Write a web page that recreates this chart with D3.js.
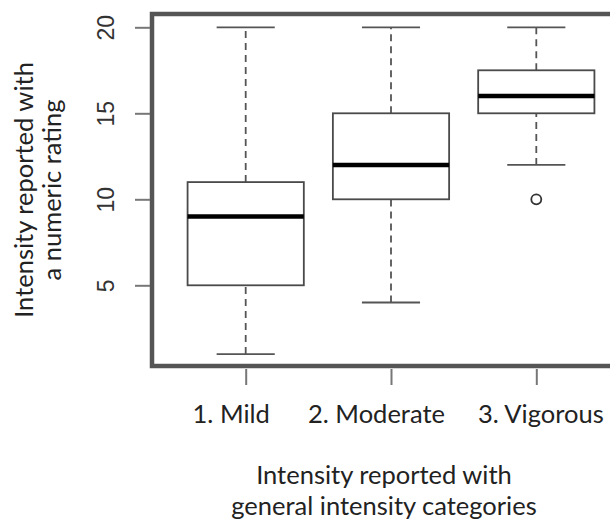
<!DOCTYPE html>
<html><head><meta charset="utf-8">
<script src="https://cdn.jsdelivr.net/npm/d3@7"></script>
<style>html,body{margin:0;padding:0;background:#fff;}</style>
</head><body>
<svg id="chart" width="610" height="521"></svg>
<script>
const categories = ["1. Mild", "2. Moderate", "3. Vigorous"];
const whiskerLow = [1, 4, 12];
const q1 = [5, 10, 15];
const median = [9, 12, 16];
const q3 = [11, 15, 17.5];
const whiskerHigh = [20, 20, 20];
const outliers = [[], [], [10]];
const yTicks = [5, 10, 15, 20];
const yTitle = ["Intensity reported with", "a numeric rating"];
const xTitle = ["Intensity reported with", "general intensity categories"];

const svg = d3.select("#chart");
const y = d3.scaleLinear().domain([0, 20]).range([371.3, 27.3]);
const x = d3.scalePoint().domain(categories).range([245.7, 536.3]);
const step = x.step();
const boxW = step * 0.8;
const capW = boxW / 2;
const titleFont = "Lato, 'Open Sans', sans-serif";

const data = categories.map((c, i) => ({c, lo: whiskerLow[i], q1: q1[i], med: median[i], q3: q3[i], hi: whiskerHigh[i], out: outliers[i]}));

const g = svg.append("g");
// whiskers dashed
g.selectAll(".wl").data(data).join("line")
  .attr("x1", d => x(d.c)).attr("x2", d => x(d.c))
  .attr("y1", d => y(d.lo)).attr("y2", d => y(d.q1))
  .attr("stroke", "#555").attr("stroke-width", 1.8).attr("stroke-dasharray", "7,5");
g.selectAll(".wh").data(data).join("line")
  .attr("x1", d => x(d.c)).attr("x2", d => x(d.c))
  .attr("y1", d => y(d.q3)).attr("y2", d => y(d.hi))
  .attr("stroke", "#555").attr("stroke-width", 1.8).attr("stroke-dasharray", "7,5");
// caps
["lo", "hi"].forEach(k => {
  g.selectAll(".cap" + k).data(data).join("line")
    .attr("x1", d => x(d.c) - capW / 2).attr("x2", d => x(d.c) + capW / 2)
    .attr("y1", d => y(d[k])).attr("y2", d => y(d[k]))
    .attr("stroke", "#555").attr("stroke-width", 1.8);
});
// boxes
g.selectAll(".box").data(data).join("rect")
  .attr("x", d => x(d.c) - boxW / 2).attr("width", boxW)
  .attr("y", d => y(d.q3)).attr("height", d => y(d.q1) - y(d.q3))
  .attr("fill", "#fff").attr("stroke", "#4a4a4a").attr("stroke-width", 1.8);
// medians
g.selectAll(".med").data(data).join("line")
  .attr("x1", d => x(d.c) - boxW / 2).attr("x2", d => x(d.c) + boxW / 2)
  .attr("y1", d => y(d.med)).attr("y2", d => y(d.med))
  .attr("stroke", "#000").attr("stroke-width", 4.5);
// outliers
data.forEach(d => {
  g.selectAll(null).data(d.out).join("circle")
    .attr("cx", x(d.c)).attr("cy", v => y(v)).attr("r", 5)
    .attr("fill", "none").attr("stroke", "#333").attr("stroke-width", 1.8);
});

// frame
svg.append("rect").attr("x", 152).attr("y", 14).attr("width", 480).attr("height", 352)
  .attr("fill", "none").attr("stroke", "#555").attr("stroke-width", 4.5);

// y axis
const yAxis = svg.append("g").attr("transform", "translate(150,0)")
  .call(d3.axisLeft(y).tickValues(yTicks).tickSize(15).tickPadding(0));
yAxis.select(".domain").remove();
yAxis.selectAll(".tick line").attr("stroke", "#777").attr("stroke-width", 2);
yAxis.selectAll(".tick text")
  .attr("transform", "rotate(-90)").attr("x", 0).attr("y", -44)
  .attr("dy", "0.35em").attr("text-anchor", "middle")
  .attr("font-family", "'Liberation Sans', Arial, sans-serif").attr("font-size", 23).attr("fill", "#333");

// x axis
const xAxis = svg.append("g").attr("transform", "translate(0,369)")
  .call(d3.axisBottom(x).tickSize(16).tickPadding(0));
xAxis.select(".domain").remove();
xAxis.selectAll(".tick line").attr("stroke", "#777").attr("stroke-width", 2);
const labelShift = [-15, -15, 4];
xAxis.selectAll(".tick text").attr("y", 54).attr("dy", 0)
  .attr("x", (d, i) => labelShift[i])
  .attr("font-family", titleFont).attr("font-size", 25.5).attr("fill", "#222");

// titles
svg.append("text").attr("text-anchor", "middle").attr("font-family", titleFont).attr("font-size", 25.5).attr("fill", "#222")
  .selectAll("tspan").data(xTitle).join("tspan")
  .attr("x", 384).attr("y", (d, i) => 484 + i * 31).text(d => d);
svg.append("text").attr("text-anchor", "middle").attr("font-family", titleFont).attr("font-size", 25.5).attr("fill", "#222")
  .attr("transform", "rotate(-90)")
  .selectAll("tspan").data(yTitle).join("tspan")
  .attr("x", -190).attr("y", (d, i) => 33 + i * 28).text(d => d);
</script>
</body></html>
